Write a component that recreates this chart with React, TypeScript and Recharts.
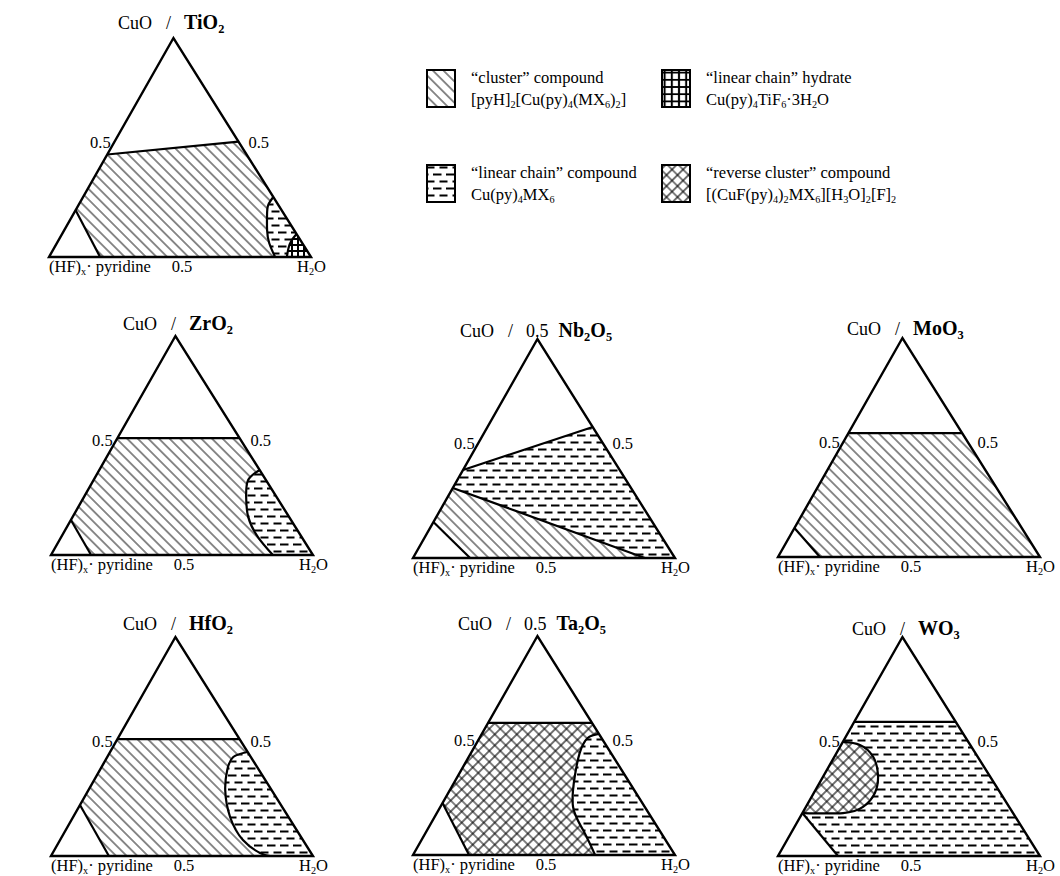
import React from "react";
import { ScatterChart, Scatter, XAxis, YAxis } from "recharts";

// every point is [CuO fraction, H2O fraction]; (HF)x·pyridine is the rest
type Pt = [number, number];

const H2O: Pt = [0, 1];
const outline: Pt[] = [[0, 0], [0, 1], [1, 0]];

// CuO / TiO2
const tiTop: Pt[] = [[0.468, 0], [0.527, 0.473]];
const tiCut: Pt[] = [[0.214, 0], [0, 0.195]];
const tiLens: Pt[] = [[0.274, 0.726], [0.237, 0.724], [0.192, 0.741], [0.123, 0.774], [0.064, 0.81], [0, 0.863]];
const tiHydrate: Pt[] = [[0, 0.908], [0.04, 0.895], [0.075, 0.89], [0.105, 0.895]];

// CuO / ZrO2
const zrTop: Pt[] = [[0.534, 0], [0.534, 0.466]];
const zrCut: Pt[] = [[0.16, 0], [0, 0.153]];
const zrLens: Pt[] = [[0.388, 0.612], [0.342, 0.59], [0.265, 0.619], [0.174, 0.67], [0.082, 0.751], [0, 0.847]];

// CuO / 0.5 Nb2O5
const nbCut: Pt[] = [[0.164, 0], [0, 0.218]];
const nbUpper: Pt[] = [[0.402, 0], [0.598, 0.402]];
const nbLower: Pt[] = [[0.32, 0], [0, 0.885]];

// CuO / MoO3
const moTop: Pt[] = [[0.566, 0], [0.566, 0.434]];
const moCut: Pt[] = [[0.132, 0], [0, 0.16]];

// CuO / HfO2
const hfTop: Pt[] = [[0.534, 0], [0.534, 0.466]];
const hfCut: Pt[] = [[0.233, 0], [0, 0.221]];
const hfLens: Pt[] = [[0.475, 0.525], [0.452, 0.481], [0.393, 0.486], [0.301, 0.522], [0.178, 0.599], [0.073, 0.698], [0.014, 0.791], [0, 0.836]];

// CuO / 0.5 Ta2O5
const taTop: Pt[] = [[0.603, 0], [0.603, 0.397]];
const taCut: Pt[] = [[0.237, 0], [0, 0.214]];
const taLens: Pt[] = [[0.553, 0.447], [0.534, 0.413], [0.466, 0.415], [0.356, 0.448], [0.219, 0.507], [0.114, 0.595], [0, 0.695]];

// CuO / WO3
const wTop: Pt[] = [[0.612, 0], [0.612, 0.388]];
const wCut: Pt[] = [[0.196, 0], [0, 0.229]];
const wBlob: Pt[] = [[0.521, 0], [0.507, 0.072], [0.452, 0.149], [0.37, 0.206], [0.288, 0.233], [0.224, 0.218], [0.196, 0.155], [0.196, 0]];

const APEX = 0.475; // the printed triangles lean slightly left
const W = 262;
const H = 219;
const M = 12;
const FONT = "'Liberation Serif', 'Times New Roman', serif";

const toXY = (pts: Pt[]) => pts.map(([c, w]) => ({ x: w + APEX * c, y: c }));
const noDot = () => <g />;

const Sub = ({ children }: { children: React.ReactNode }) => (
  <span style={{ fontSize: "0.62em", position: "relative", top: "0.3em" }}>{children}</span>
);
const Slash = () => <span style={{ margin: "0 13px 0 14px" }}>/</span>;
const Bold = ({ children }: { children: React.ReactNode }) => (
  <b style={{ fontSize: 20 }}>{children}</b>
);

type Fill = { pat: string; pts: Pt[] };
type Stroke = { pts: Pt[]; curve?: boolean };
type PanelDef = {
  id: string;
  bl: [number, number];
  titleAt: [number, number];
  title: React.ReactNode;
  fills: Fill[];
  strokes: Stroke[];
};

const panels: PanelDef[] = [
  {
    id: "ti",
    bl: [49, 257],
    titleAt: [118, 22],
    title: <>CuO<Slash /><Bold>TiO<Sub>2</Sub></Bold></>,
    fills: [
      { pat: "hatch", pts: [tiCut[0], tiTop[0], tiTop[1], H2O, tiCut[1]] },
      { pat: "dash", pts: [...tiLens, H2O] },
      { pat: "grid", pts: [...tiHydrate, H2O] },
    ],
    strokes: [{ pts: tiTop }, { pts: tiCut }, { pts: tiLens, curve: true }, { pts: tiHydrate, curve: true }],
  },
  {
    id: "zr",
    bl: [51, 555],
    titleAt: [123, 323],
    title: <>CuO<Slash /><Bold>ZrO<Sub>2</Sub></Bold></>,
    fills: [
      { pat: "hatch", pts: [zrCut[0], zrTop[0], zrTop[1], H2O, zrCut[1]] },
      { pat: "dash", pts: [...zrLens, H2O] },
    ],
    strokes: [{ pts: zrTop }, { pts: zrCut }, { pts: zrLens, curve: true }],
  },
  {
    id: "nb",
    bl: [413, 558],
    titleAt: [460, 330],
    title: <>CuO<Slash />0.5<span style={{ marginLeft: 10 }} /><Bold>Nb<Sub>2</Sub>O<Sub>5</Sub></Bold></>,
    fills: [
      { pat: "hatch", pts: [nbCut[0], nbLower[0], nbLower[1], nbCut[1]] },
      { pat: "dash", pts: [nbLower[0], nbUpper[0], nbUpper[1], H2O, nbLower[1]] },
    ],
    strokes: [{ pts: nbUpper }, { pts: nbLower }, { pts: nbCut }],
  },
  {
    id: "mo",
    bl: [778, 557],
    titleAt: [847, 328],
    title: <>CuO<Slash /><Bold>MoO<Sub>3</Sub></Bold></>,
    fills: [{ pat: "hatch", pts: [moCut[0], moTop[0], moTop[1], H2O, moCut[1]] }],
    strokes: [{ pts: moTop }, { pts: moCut }],
  },
  {
    id: "hf",
    bl: [51, 856],
    titleAt: [123, 623],
    title: <>CuO<Slash /><Bold>HfO<Sub>2</Sub></Bold></>,
    fills: [
      { pat: "hatch", pts: [hfCut[0], hfTop[0], hfTop[1], H2O, hfCut[1]] },
      { pat: "dash", pts: [...hfLens, H2O] },
    ],
    strokes: [{ pts: hfTop }, { pts: hfCut }, { pts: hfLens, curve: true }],
  },
  {
    id: "ta",
    bl: [413, 855],
    titleAt: [458, 623],
    title: <>CuO<Slash />0.5<span style={{ marginLeft: 10 }} /><Bold>Ta<Sub>2</Sub>O<Sub>5</Sub></Bold></>,
    fills: [
      { pat: "cross", pts: [taCut[0], taTop[0], taTop[1], H2O, taCut[1]] },
      { pat: "dash", pts: [...taLens, H2O] },
    ],
    strokes: [{ pts: taTop }, { pts: taCut }, { pts: taLens, curve: true }],
  },
  {
    id: "w",
    bl: [778, 856],
    titleAt: [852, 628],
    title: <>CuO<Slash /><Bold>WO<Sub>3</Sub></Bold></>,
    fills: [
      { pat: "dash", pts: [wCut[0], wTop[0], wTop[1], H2O, wCut[1]] },
      { pat: "cross", pts: wBlob },
    ],
    strokes: [{ pts: wTop }, { pts: wCut }, { pts: wBlob, curve: true }],
  },
];

const Patterns = ({ id, gridSize = 6 }: { id: string; gridSize?: number }) => (
  <>
    <pattern id={`${id}-hatch`} patternUnits="userSpaceOnUse" width={7.5} height={7.5} patternTransform="rotate(-45)">
      <line x1={3.75} y1={0} x2={3.75} y2={7.5} stroke="#000" strokeWidth={0.9} />
    </pattern>
    <pattern id={`${id}-dash`} patternUnits="userSpaceOnUse" width={13} height={14}>
      <rect width={13} height={14} fill="#fff" />
      <path d="M0.5 3.5H8.5M7 10.5H13M0 10.5H2.5" stroke="#000" strokeWidth={1.8} />
    </pattern>
    <pattern id={`${id}-cross`} patternUnits="userSpaceOnUse" width={7.8} height={7.8} patternTransform="rotate(45)">
      <rect width={7.8} height={7.8} fill="#fff" />
      <path d="M3.9 0V7.8M0 3.9H7.8" stroke="#000" strokeWidth={1.1} />
    </pattern>
    <pattern id={`${id}-grid`} patternUnits="userSpaceOnUse" width={gridSize} height={gridSize}>
      <rect width={gridSize} height={gridSize} fill="#fff" />
      <path d={`M${gridSize / 2} 0V${gridSize}M0 ${gridSize / 2}H${gridSize}`} stroke="#000" strokeWidth={2} />
    </pattern>
  </>
);

const txt = (left: number, top: number, shift: string, size: number): React.CSSProperties => ({
  position: "absolute",
  left,
  top,
  transform: shift,
  fontSize: size,
  lineHeight: 1,
  whiteSpace: "nowrap",
});

function Panel({ p }: { p: PanelDef }) {
  const [bx, by] = p.bl;
  const midY = by - 0.52 * H;
  return (
    <>
      <div style={{ position: "absolute", left: bx - M, top: by - H - M }}>
        <ScatterChart width={W + 2 * M} height={H + 2 * M} margin={{ top: M, right: M, bottom: M, left: M }}>
          <defs>
            <Patterns id={p.id} />
          </defs>
          <XAxis type="number" dataKey="x" domain={[0, 1]} hide />
          <YAxis type="number" dataKey="y" domain={[0, 1]} hide />
          {p.fills.map((f, i) => (
            <Scatter
              key={`fill-${i}`}
              data={toXY(f.pts)}
              shape={noDot}
              line={{ fill: `url(#${p.id}-${f.pat})`, stroke: "none" }}
              lineJointType="linearClosed"
              isAnimationActive={false}
            />
          ))}
          {p.strokes.map((s, i) => (
            <Scatter
              key={`line-${i}`}
              data={toXY(s.pts)}
              shape={noDot}
              line={{ fill: "none", stroke: "#000", strokeWidth: 2.2 }}
              lineJointType={s.curve ? "natural" : "linear"}
              isAnimationActive={false}
            />
          ))}
          <Scatter
            data={toXY(outline)}
            shape={noDot}
            line={{ fill: "none", stroke: "#000", strokeWidth: 2.4 }}
            lineJointType="linearClosed"
            isAnimationActive={false}
          />
        </ScatterChart>
      </div>
      <div style={txt(p.titleAt[0], p.titleAt[1], "translateY(-50%)", 18)}>{p.title}</div>
      <div style={txt(bx + APEX * 0.52 * W - 3, midY, "translate(-100%,-50%)", 16.5)}>0.5</div>
      <div style={txt(bx + W * (1 - 0.52 * (1 - APEX)) + 9, midY, "translateY(-50%)", 16.5)}>0.5</div>
      <div style={txt(bx + W / 2 + 2, by + 10, "translate(-50%,-50%)", 16.5)}>0.5</div>
      <div style={txt(bx, by + 10, "translateY(-50%)", 16.5)}>
        (HF)<Sub>x</Sub>· pyridine
      </div>
      <div style={txt(bx + W - 14, by + 10, "translateY(-50%)", 16.5)}>
        H<Sub>2</Sub>O
      </div>
    </>
  );
}

const legendItems = [
  { pat: "hatch", at: [426, 69], line1: "“cluster” compound", line2: <>[pyH]<Sub>2</Sub>[Cu(py)<Sub>4</Sub>(MX<Sub>6</Sub>)<Sub>2</Sub>]</> },
  { pat: "grid", at: [661, 69], line1: "“linear chain” hydrate", line2: <>Cu(py)<Sub>4</Sub>TiF<Sub>6</Sub>·3H<Sub>2</Sub>O</> },
  { pat: "dash", at: [426, 164], line1: "“linear chain” compound", line2: <>Cu(py)<Sub>4</Sub>MX<Sub>6</Sub></> },
  {
    pat: "cross",
    at: [661, 164],
    line1: "“reverse cluster” compound",
    line2: <>[(CuF(py)<Sub>4</Sub>)<Sub>2</Sub>MX<Sub>6</Sub>][H<Sub>3</Sub>O]<Sub>2</Sub>[F]<Sub>2</Sub></>,
  },
];

export default function App() {
  return (
    <div
      style={{
        position: "absolute",
        left: 0,
        top: 0,
        width: 1060,
        height: 876,
        background: "#fff",
        fontFamily: FONT,
        color: "#000",
        overflow: "hidden",
      }}
    >
      {panels.map((p) => (
        <Panel key={p.id} p={p} />
      ))}
      {legendItems.map((it) => (
        <React.Fragment key={it.pat}>
          <svg style={{ position: "absolute", left: it.at[0], top: it.at[1] }} width={30} height={39}>
            <defs>
              <Patterns id={`lg-${it.pat}`} gridSize={7.2} />
            </defs>
            <rect x={1} y={1} width={28} height={37} fill={`url(#lg-${it.pat}-${it.pat})`} stroke="#000" strokeWidth={2} />
          </svg>
          <div style={txt(it.at[0] + 45, it.at[1] + 9, "translateY(-50%)", 16.5)}>{it.line1}</div>
          <div style={txt(it.at[0] + 45, it.at[1] + 31, "translateY(-50%)", 16.5)}>{it.line2}</div>
        </React.Fragment>
      ))}
    </div>
  );
}
